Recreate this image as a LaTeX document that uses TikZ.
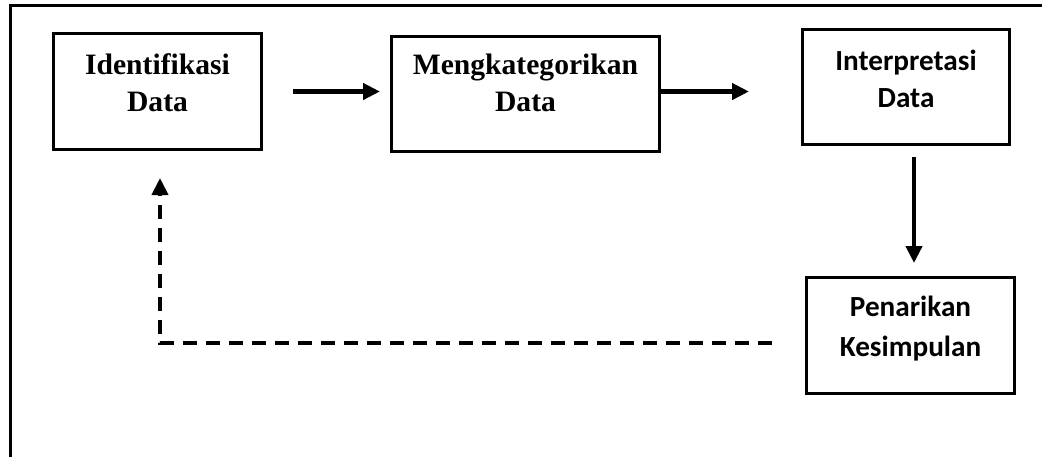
\documentclass[tikz,border=0pt]{standalone}
\usepackage{fontspec}
\setmainfont{Liberation Serif}[Ligatures=CommonOff]
\newfontfamily\calibri{Carlito}[Ligatures=CommonOff]
\usetikzlibrary{arrows.meta}

\begin{document}
\begin{tikzpicture}[x=0.5pt,y=-0.5pt]
        \tikzstyle{block}=[draw,line width=1.5pt,inner sep=0]
        \tikzstyle{serif text}=[inner sep=0,align=center,font=\fontsize{14.8}{18.7}\selectfont\bfseries]
        \tikzstyle{sans text}=[inner sep=0,align=center,font=\fontsize{14.6}{18.5}\selectfont\calibri\bfseries]
        \tikzstyle{arr}=[line width=2.2pt,-{Triangle[length=8.5pt,width=8pt]}]
        \tikzstyle{dash arr}=[arr,line width=2pt,dash pattern=on 7pt off 4.5pt]

        \useasboundingbox (0,0) rectangle (1042,457);

        % Outer frame (top and left only)
        \draw[line width=1.5pt] (10,457) -- (10,5.5) -- (1042,5.5);

        % Boxes
        \node[block,minimum width=104pt,minimum height=58pt](ident) at (157.5,91.5){};
        \node[block,minimum width=134pt,minimum height=57.5pt](categ) at (525.5,94){};
        \node[block,minimum width=103.5pt,minimum height=57.5pt](interp) at (906,87){};
        \node[block,minimum width=104pt,minimum height=58pt](kesim) at (910.5,335.5){};

        % Box texts
        \node[serif text,anchor=north](identtext) at ([yshift=-10.5pt]ident.north){Identifikasi\\Data};
        \node[serif text,anchor=north](categtext) at ([yshift=-9.2pt]categ.north){Mengkategorikan\\Data};
        \node[sans text,anchor=north](interptext) at ([yshift=-10.9pt]interp.north){Interpretasi\\Data};
        \node[sans text,anchor=north,font=\fontsize{14.6}{19.8}\selectfont\calibri\bfseries](kesimtext) at ([yshift=-9.8pt]kesim.north){Penarikan\\Kesimpulan};

        % Arrows
        \draw[arr] ([xshift=15pt]ident.east) -- ([xshift=-5pt]ident.east -| categ.west);
        \draw[arr] (categ.east |- ident.east) -- ([xshift=-26pt]interp.west |- ident.east);
        \draw[arr] ([xshift=4pt,yshift=-5.5pt]interp.south) -- ([xshift=1.75pt,yshift=6.5pt]kesim.north);
        \draw[dash arr] ([xshift=-16.5pt,yshift=-3.75pt]kesim.west) -| ([xshift=1.25pt,yshift=-13.5pt]ident.south);
    \end{tikzpicture}
\end{document}
